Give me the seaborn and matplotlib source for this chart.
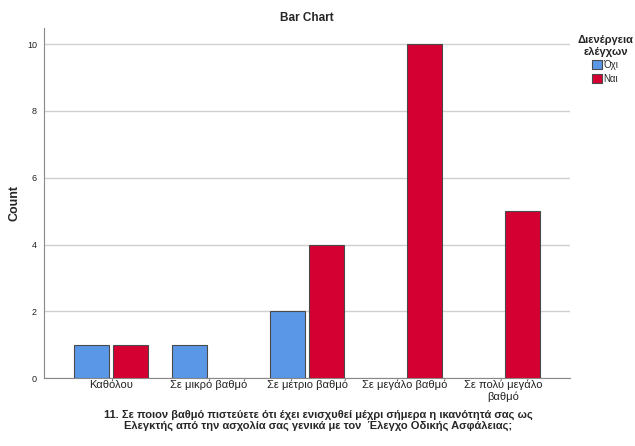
import pandas as pd
import matplotlib.pyplot as plt
import seaborn as sns

# data
categories = ["Καθόλου", "Σε μικρό βαθμό", "Σε μέτριο βαθμό",
              "Σε μεγάλο βαθμό", "Σε πολύ μεγάλο\nβαθμό"]
hue_levels = ["Όχι", "Ναι"]
counts_oxi = [1, 1, 2, 0, 0]
counts_nai = [1, 0, 4, 10, 5]

rows = []
for cat, o, n in zip(categories, counts_oxi, counts_nai):
    if o > 0:
        rows.append((cat, "Όχι", o))
    if n > 0:
        rows.append((cat, "Ναι", n))
df = pd.DataFrame(rows, columns=["category", "check", "count"])

sns.set_style("white")
plt.rcParams['font.family'] = ['Liberation Sans', 'DejaVu Sans']

fig, ax = plt.subplots(figsize=(6.35, 4.46), dpi=100)
fig.subplots_adjust(left=0.069, right=0.898, top=0.937, bottom=0.152)

sns.barplot(data=df, x="category", y="count", hue="check",
            order=categories, hue_order=hue_levels,
            palette={"Όχι": "#5A97E6", "Ναι": "#D50032"}, saturation=1,
            width=0.8, gap=0.1, edgecolor="#4a4a4a", linewidth=0.8,
            ax=ax, zorder=3)

ax.set_xlim(-0.684, 4.684)
ax.set_ylim(0, 10.48)
ax.set_yticks([0, 2, 4, 6, 8, 10])
ax.yaxis.grid(True, color="#d0d0d0", linewidth=1.0, zorder=0)
ax.set_axisbelow(True)
for side in ["top", "right"]:
    ax.spines[side].set_visible(False)
ax.spines["left"].set_color("#888888")
ax.spines["bottom"].set_color("#888888")
ax.tick_params(axis="y", labelsize=6.5, length=0, pad=5, colors="#222222")
ax.tick_params(axis="x", labelsize=8, length=0, pad=1, colors="#222222")

ax.set_title("Bar Chart", fontsize=8.5, fontweight="bold", pad=5)
ax.set_ylabel("Count", fontsize=9, fontweight="bold")
ax.yaxis.set_label_coords(-0.045, 0.5)
ax.set_xlabel("11. Σε ποιον βαθμό πιστεύετε ότι έχει ενισχυθεί μέχρι σήμερα η ικανότητά σας ως\n"
              "Ελεγκτής από την ασχολία σας γενικά με τον  Έλεγχο Οδικής Ασφάλειας;",
              fontsize=8, fontweight="bold", linespacing=1.1)
ax.xaxis.set_label_coords(0.521, -0.09)

leg = ax.legend(title="Διενέργεια\nελέγχων", loc="upper center",
                bbox_to_anchor=(1.067, 0.98), frameon=False, fontsize=7,
                handlelength=1.0, handleheight=1.0, handletextpad=0.15,
                labelspacing=0.35, borderaxespad=0, borderpad=0)
leg.get_title().set_fontweight("bold")
leg.get_title().set_fontsize(8)
leg.get_title().set_multialignment("center")

plt.savefig("out.png", dpi=100)
